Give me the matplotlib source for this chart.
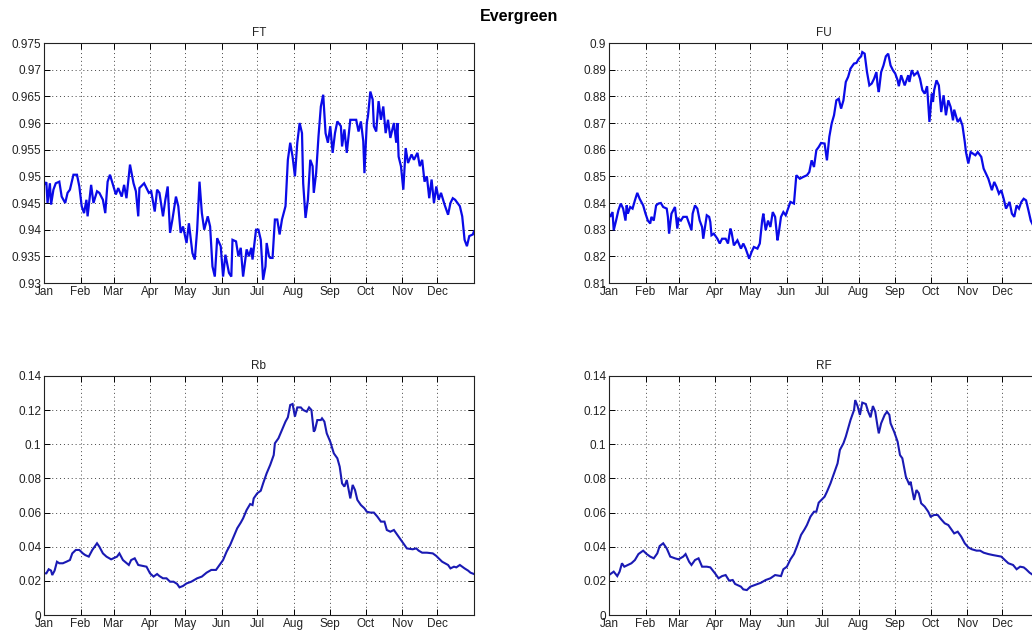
import numpy as np
import matplotlib
matplotlib.use('Agg')
import matplotlib.pyplot as plt

plt.rcParams['font.family'] = ['Liberation Sans', 'DejaVu Sans']

# ---------------------------------------------------------------------------
# datos (dia del año, valor)
# ---------------------------------------------------------------------------
month_days = [0, 31, 59, 90, 120, 151, 181, 212, 243, 273, 304, 334]
month_names = ['Jan', 'Feb', 'Mar', 'Apr', 'May', 'Jun',
               'Jul', 'Aug', 'Sep', 'Oct', 'Nov', 'Dec']

ft_days = [0, 2, 3, 5, 6, 8, 10, 13, 15, 18, 20, 22, 25, 28, 30, 32, 34, 36, 37, 40,
           42, 45, 47, 50, 52, 54, 56, 59, 61, 63, 66, 68, 70, 73, 76, 78, 80, 81, 85, 87,
           89, 91, 94, 96, 98, 101, 103, 105, 107, 109, 112, 114, 116, 118, 121, 123, 126, 128, 130, 132,
           134, 136, 139, 141, 143, 145, 147, 150, 152, 154, 157, 159, 160, 163, 165, 167, 169, 172, 174, 176,
           177, 180, 182, 184, 186, 188, 189, 191, 192, 194, 196, 198, 200, 202, 205, 207, 209, 211, 213, 215,
           217, 219, 220, 222, 224, 226, 228, 229, 231, 233, 235, 237, 239, 241, 243, 245, 247, 249, 252, 253,
           255, 257, 260, 262, 265, 267, 269, 271, 272, 274, 275, 277, 279, 280, 282, 284, 286, 288, 290, 292,
           294, 297, 299, 300, 301, 303, 305, 307, 309, 312, 314, 317, 319, 321, 323, 325, 327, 329, 331, 333,
           335, 337, 340, 343, 345, 347, 349, 351, 353, 355, 357, 359, 361, 364, 365]
ft_vals = [0.9484, 0.9489, 0.9450, 0.9487, 0.9447, 0.9475, 0.9487, 0.9490, 0.9462, 0.9450,
           0.9469, 0.9475, 0.9503, 0.9503, 0.9481, 0.9444, 0.9431, 0.9456, 0.9425, 0.9484,
           0.9450, 0.9472, 0.9469, 0.9456, 0.9431, 0.9490, 0.9503, 0.9481, 0.9466, 0.9478,
           0.9462, 0.9484, 0.9459, 0.9522, 0.9487, 0.9472, 0.9425, 0.9478, 0.9487, 0.9478,
           0.9469, 0.9472, 0.9434, 0.9475, 0.9469, 0.9425, 0.9456, 0.9481, 0.9394, 0.9419,
           0.9462, 0.9444, 0.9394, 0.9406, 0.9375, 0.9412, 0.9356, 0.9344, 0.9400, 0.9490,
           0.9431, 0.9400, 0.9425, 0.9406, 0.9331, 0.9312, 0.9384, 0.9369, 0.9312, 0.9353,
           0.9319, 0.9312, 0.9381, 0.9378, 0.9350, 0.9366, 0.9312, 0.9363, 0.9350, 0.9366,
           0.9344, 0.9400, 0.9400, 0.9381, 0.9306, 0.9331, 0.9375, 0.9350, 0.9347, 0.9347,
           0.9419, 0.9419, 0.9391, 0.9419, 0.9444, 0.9531, 0.9563, 0.9537, 0.9500, 0.9563,
           0.9600, 0.9581, 0.9487, 0.9422, 0.9456, 0.9531, 0.9519, 0.9469, 0.9506, 0.9575,
           0.9631, 0.9653, 0.9581, 0.9563, 0.9594, 0.9544, 0.9581, 0.9603, 0.9594, 0.9556,
           0.9588, 0.9544, 0.9606, 0.9606, 0.9606, 0.9584, 0.9603, 0.9566, 0.9506, 0.9600,
           0.9613, 0.9659, 0.9644, 0.9594, 0.9584, 0.9641, 0.9606, 0.9631, 0.9581, 0.9606,
           0.9572, 0.9600, 0.9563, 0.9600, 0.9537, 0.9519, 0.9475, 0.9553, 0.9525, 0.9541,
           0.9531, 0.9544, 0.9519, 0.9531, 0.9490, 0.9500, 0.9459, 0.9494, 0.9450, 0.9481,
           0.9456, 0.9469, 0.9447, 0.9428, 0.9450, 0.9459, 0.9456, 0.9450, 0.9444, 0.9425,
           0.9381, 0.9369, 0.9388, 0.9391, 0.9397]

fu_days = [0, 1, 3, 4, 6, 8, 10, 12, 14, 15, 16, 18, 20, 22, 24, 26, 29, 31, 33, 35,
           36, 38, 40, 42, 44, 46, 49, 50, 51, 53, 56, 58, 59, 61, 63, 66, 68, 70, 71, 73,
           75, 77, 79, 80, 83, 85, 86, 87, 89, 92, 94, 96, 99, 101, 103, 104, 106, 109, 112, 114,
           116, 119, 121, 123, 126, 128, 130, 131, 133, 135, 137, 139, 141, 143, 144, 146, 148, 150, 152, 154,
           157, 159, 162, 165, 168, 170, 172, 174, 176, 178, 180, 183, 184, 185, 187, 189, 191, 193, 195, 197,
           199, 201, 203, 205, 208, 210, 212, 214, 215, 217, 219, 221, 223, 225, 227, 228, 229, 231, 233, 235,
           237, 239, 241, 243, 245, 246, 248, 251, 254, 255, 257, 259, 262, 264, 266, 268, 270, 272, 274, 275,
           276, 278, 280, 282, 284, 286, 288, 290, 292, 293, 296, 298, 300, 302, 303, 305, 307, 309, 311, 313,
           316, 318, 320, 322, 325, 327, 329, 331, 333, 335, 337, 340, 342, 344, 346, 348, 350, 352, 354, 356,
           358, 360, 365]
fu_vals = [0.8360, 0.8348, 0.8366, 0.8298, 0.8334, 0.8373, 0.8398, 0.8379, 0.8334, 0.8391,
           0.8360, 0.8385, 0.8379, 0.8410, 0.8438, 0.8416, 0.8391, 0.8360, 0.8334, 0.8323,
           0.8348, 0.8334, 0.8391, 0.8398, 0.8400, 0.8385, 0.8379, 0.8348, 0.8285, 0.8360,
           0.8385, 0.8304, 0.8341, 0.8334, 0.8348, 0.8348, 0.8323, 0.8298, 0.8360, 0.8391,
           0.8379, 0.8334, 0.8310, 0.8266, 0.8354, 0.8348, 0.8329, 0.8279, 0.8285, 0.8266,
           0.8248, 0.8266, 0.8266, 0.8248, 0.8304, 0.8291, 0.8241, 0.8260, 0.8229, 0.8248,
           0.8229, 0.8191, 0.8216, 0.8235, 0.8229, 0.8248, 0.8334, 0.8360, 0.8298, 0.8334,
           0.8310, 0.8366, 0.8348, 0.8260, 0.8285, 0.8348, 0.8366, 0.8354, 0.8379, 0.8404,
           0.8398, 0.8504, 0.8491, 0.8498, 0.8504, 0.8516, 0.8560, 0.8535, 0.8598, 0.8610,
           0.8625, 0.8623, 0.8591, 0.8560, 0.8648, 0.8698, 0.8729, 0.8785, 0.8791, 0.8754,
           0.8785, 0.8854, 0.8873, 0.8904, 0.8923, 0.8925, 0.8941, 0.8950, 0.8966, 0.8960,
           0.8891, 0.8841, 0.8848, 0.8866, 0.8891, 0.8841, 0.8816, 0.8891, 0.8916, 0.8950,
           0.8960, 0.8916, 0.8898, 0.8885, 0.8860, 0.8838, 0.8879, 0.8841, 0.8879, 0.8854,
           0.8898, 0.8879, 0.8891, 0.8866, 0.8823, 0.8810, 0.8838, 0.8704, 0.8810, 0.8779,
           0.8823, 0.8860, 0.8841, 0.8741, 0.8804, 0.8729, 0.8785, 0.8760, 0.8710, 0.8750,
           0.8704, 0.8716, 0.8691, 0.8629, 0.8591, 0.8548, 0.8591, 0.8585, 0.8579, 0.8591,
           0.8573, 0.8529, 0.8510, 0.8491, 0.8448, 0.8479, 0.8460, 0.8435, 0.8448, 0.8416,
           0.8379, 0.8404, 0.8360, 0.8348, 0.8391, 0.8379, 0.8404, 0.8416, 0.8410, 0.8373,
           0.8334, 0.8316, 0.8290]

rb_days = [0, 2, 4, 6, 7, 9, 11, 13, 16, 19, 22, 24, 27, 30, 33, 35, 38, 41, 45, 47,
           50, 53, 57, 62, 64, 67, 72, 74, 77, 80, 84, 87, 90, 93, 96, 98, 101, 104, 107, 110,
           113, 115, 118, 121, 125, 130, 134, 138, 142, 146, 150, 152, 155, 158, 161, 164, 167, 169, 172, 175,
           177, 178, 181, 184, 186, 189, 192, 195, 196, 199, 202, 205, 207, 209, 211, 213, 215, 218, 220, 223,
           225, 227, 229, 230, 232, 235, 236, 238, 240, 243, 246, 249, 251, 253, 255, 257, 260, 262, 264, 266,
           269, 272, 274, 277, 280, 283, 286, 289, 291, 294, 297, 300, 303, 306, 308, 313, 316, 318, 321, 325,
           330, 333, 335, 338, 343, 345, 348, 350, 353, 357, 360, 362, 365]
rb_vals = [0.0244, 0.0244, 0.0268, 0.0260, 0.0234, 0.0260, 0.0312, 0.0303, 0.0303, 0.0312,
           0.0322, 0.0361, 0.0381, 0.0381, 0.0361, 0.0351, 0.0342, 0.0381, 0.0420, 0.0400,
           0.0361, 0.0342, 0.0326, 0.0342, 0.0361, 0.0322, 0.0293, 0.0322, 0.0332, 0.0293,
           0.0287, 0.0283, 0.0244, 0.0225, 0.0240, 0.0228, 0.0215, 0.0215, 0.0195, 0.0195,
           0.0182, 0.0162, 0.0170, 0.0185, 0.0195, 0.0215, 0.0225, 0.0248, 0.0264, 0.0264,
           0.0303, 0.0322, 0.0371, 0.0410, 0.0459, 0.0508, 0.0541, 0.0566, 0.0615, 0.0650,
           0.0644, 0.0683, 0.0713, 0.0728, 0.0771, 0.0830, 0.0879, 0.0937, 0.1006, 0.1035,
           0.1084, 0.1133, 0.1158, 0.1230, 0.1236, 0.1162, 0.1216, 0.1216, 0.1201, 0.1191,
           0.1216, 0.1201, 0.1074, 0.1084, 0.1142, 0.1142, 0.1152, 0.1133, 0.1064, 0.1015,
           0.0947, 0.0918, 0.0869, 0.0771, 0.0752, 0.0791, 0.0683, 0.0762, 0.0732, 0.0674,
           0.0644, 0.0625, 0.0605, 0.0600, 0.0600, 0.0576, 0.0547, 0.0547, 0.0498, 0.0488,
           0.0498, 0.0469, 0.0439, 0.0410, 0.0390, 0.0385, 0.0390, 0.0377, 0.0365, 0.0365,
           0.0361, 0.0346, 0.0332, 0.0312, 0.0293, 0.0273, 0.0283, 0.0279, 0.0293, 0.0273,
           0.0260, 0.0248, 0.0240]

rf_days = [0, 2, 4, 7, 9, 11, 13, 16, 19, 22, 25, 29, 32, 35, 38, 41, 43, 46, 49, 52,
           56, 59, 63, 65, 68, 70, 73, 76, 79, 83, 86, 90, 93, 96, 99, 102, 105, 107, 112, 114,
           117, 120, 124, 129, 133, 137, 141, 146, 148, 151, 154, 157, 160, 163, 166, 168, 171, 174, 176, 178,
           183, 185, 188, 191, 194, 196, 199, 201, 203, 205, 208, 209, 211, 213, 215, 218, 220, 222, 224, 226,
           228, 229, 231, 234, 236, 238, 239, 242, 245, 247, 249, 252, 255, 256, 259, 261, 263, 265, 268, 271,
           273, 276, 279, 282, 285, 288, 291, 293, 296, 299, 302, 305, 308, 312, 315, 318, 322, 326, 330, 333,
           336, 339, 343, 346, 349, 352, 354, 357, 360, 365]
rf_vals = [0.0234, 0.0244, 0.0254, 0.0228, 0.0254, 0.0303, 0.0283, 0.0293, 0.0303, 0.0322,
           0.0357, 0.0377, 0.0357, 0.0342, 0.0332, 0.0361, 0.0404, 0.0420, 0.0390, 0.0342,
           0.0332, 0.0326, 0.0342, 0.0357, 0.0312, 0.0293, 0.0322, 0.0332, 0.0283, 0.0283,
           0.0279, 0.0244, 0.0215, 0.0228, 0.0234, 0.0201, 0.0205, 0.0182, 0.0166, 0.0150,
           0.0146, 0.0166, 0.0176, 0.0189, 0.0205, 0.0215, 0.0234, 0.0228, 0.0268, 0.0283,
           0.0326, 0.0357, 0.0410, 0.0469, 0.0502, 0.0527, 0.0576, 0.0605, 0.0605, 0.0658,
           0.0693, 0.0722, 0.0771, 0.0830, 0.0888, 0.0967, 0.1006, 0.1045, 0.1093, 0.1142,
           0.1201, 0.1259, 0.1224, 0.1172, 0.1244, 0.1236, 0.1191, 0.1158, 0.1224, 0.1191,
           0.1103, 0.1064, 0.1123, 0.1172, 0.1191, 0.1172, 0.1123, 0.1074, 0.1015, 0.0937,
           0.0918, 0.0810, 0.0762, 0.0781, 0.0674, 0.0732, 0.0713, 0.0654, 0.0635, 0.0605,
           0.0576, 0.0586, 0.0586, 0.0560, 0.0537, 0.0527, 0.0498, 0.0478, 0.0488, 0.0459,
           0.0420, 0.0396, 0.0385, 0.0377, 0.0377, 0.0365, 0.0357, 0.0351, 0.0346, 0.0342,
           0.0322, 0.0303, 0.0293, 0.0268, 0.0283, 0.0279, 0.0268, 0.0248, 0.0234, 0.0230]

ft_yticks = [0.93, 0.935, 0.94, 0.945, 0.95, 0.955, 0.96, 0.965, 0.97, 0.975]
ft_ylabels = ['0.93', '0.935', '0.94', '0.945', '0.95', '0.955', '0.96', '0.965', '0.97', '0.975']
fu_yticks = [0.81, 0.82, 0.83, 0.84, 0.85, 0.86, 0.87, 0.88, 0.89, 0.90]
fu_ylabels = ['0.81', '0.82', '0.83', '0.84', '0.85', '0.86', '0.87', '0.88', '0.89', '0.9']
r_yticks = [0, 0.02, 0.04, 0.06, 0.08, 0.10, 0.12, 0.14]
r_ylabels = ['0', '0.02', '0.04', '0.06', '0.08', '0.1', '0.12', '0.14']

# ---------------------------------------------------------------------------
# figura (estilo matlab, 2x2)
# ---------------------------------------------------------------------------
fig = plt.figure(figsize=(10.32, 6.33), dpi=100)
W, H = 1032.0, 633.0

def make_ax(left, top, width, height):
    return fig.add_axes([left / W, 1 - (top + height) / H, width / W, height / H])

panels = [
    (make_ax(44, 43, 430, 240), 'FT', ft_days, ft_vals, (0.93, 0.975), ft_yticks, ft_ylabels, '#0a0ae8', 1.6),
    (make_ax(609, 43, 430, 240), 'FU', fu_days, fu_vals, (0.81, 0.90), fu_yticks, fu_ylabels, '#0a0ae8', 1.6),
    (make_ax(44, 376, 430, 239), 'Rb', rb_days, rb_vals, (0, 0.14), r_yticks, r_ylabels, '#1a1ab4', 1.5),
    (make_ax(609, 376, 430, 239), 'RF', rf_days, rf_vals, (0, 0.14), r_yticks, r_ylabels, '#1a1ab4', 1.5),
]

for ax, name, xd, yd, ylim, yt, yl, col, lw in panels:
    ax.plot(xd, yd, color=col, lw=lw, solid_joinstyle='miter')
    ax.set_xlim(0, 365)
    ax.set_ylim(*ylim)
    ax.set_xticks(month_days)
    ax.set_xticklabels(month_names)
    ax.set_yticks(yt)
    ax.set_yticklabels(yl)
    ax.grid(True, linestyle=(0, (1, 3)), color='#444444', lw=0.7)
    ax.tick_params(direction='in', length=4, width=0.7, top=True, right=True,
                   labelsize=8.5, labelcolor='#222222', pad=2)
    for sp in ax.spines.values():
        sp.set_linewidth(0.8)
        sp.set_color('#222222')
    ax.set_title(name, fontsize=8.5, color='#222222', pad=5)

fig.text(519 / W, 1 - 17 / H, 'Evergreen', ha='center', va='center',
         fontsize=11.5, fontweight='bold')

fig.savefig('out.png', dpi=100)
